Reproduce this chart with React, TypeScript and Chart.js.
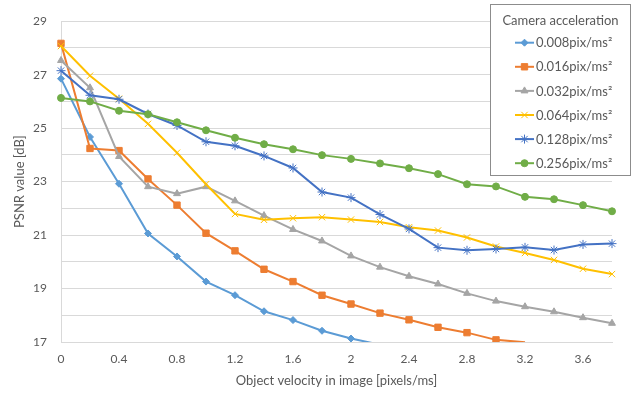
import React, { useEffect, useRef } from "react";
import { Chart, registerables } from "chart.js";
import { drawPoint } from "chart.js/helpers";

Chart.register(...registerables);

const velocities = [0, 0.2, 0.4, 0.6, 0.8, 1.0, 1.2, 1.4, 1.6, 1.8, 2.0, 2.2, 2.4, 2.6, 2.8, 3.0, 3.2, 3.4, 3.6, 3.8];
const xTickLabels = ["0", "", "0.4", "", "0.8", "", "1.2", "", "1.6", "", "2", "", "2.4", "", "2.8", "", "3.2", "", "3.6", ""];
const yTickLabels = [17, 19, 21, 23, 25, 27, 29];

const seriesNames = ["0.008pix/ms²", "0.016pix/ms²", "0.032pix/ms²", "0.064pix/ms²", "0.128pix/ms²", "0.256pix/ms²"];

const acc008 = [26.85, 24.67, 22.92, 21.06, 20.2, 19.26, 18.75, 18.15, 17.82, 17.42, 17.13, 16.9, null, null, null, null, null, null, null, null];
const acc016 = [28.17, 24.24, 24.16, 23.1, 22.12, 21.07, 20.41, 19.72, 19.26, 18.75, 18.42, 18.08, 17.83, 17.55, 17.35, 17.08, 16.99, null, null, null];
const acc032 = [27.53, 26.51, 23.94, 22.81, 22.55, 22.81, 22.28, 21.73, 21.21, 20.78, 20.22, 19.8, 19.46, 19.17, 18.82, 18.53, 18.32, 18.13, 17.91, 17.7];
const acc064 = [28.07, 26.96, 26.1, 25.16, 24.08, 22.9, 21.79, 21.57, 21.63, 21.67, 21.58, 21.49, 21.29, 21.17, 20.91, 20.57, 20.33, 20.07, 19.74, 19.54];
const acc128 = [27.15, 26.23, 26.08, 25.53, 25.1, 24.49, 24.34, 23.96, 23.51, 22.61, 22.4, 21.77, 21.23, 20.53, 20.43, 20.48, 20.54, 20.44, 20.65, 20.68];
const acc256 = [26.13, 26.0, 25.65, 25.52, 25.22, 24.92, 24.64, 24.4, 24.21, 23.99, 23.85, 23.68, 23.5, 23.28, 22.9, 22.82, 22.43, 22.34, 22.12, 21.89];

const seriesValues = [acc008, acc016, acc032, acc064, acc128, acc256];
const seriesColors = ["#5B9BD5", "#ED7D31", "#A5A5A5", "#FFC000", "#4472C4", "#70AD47"];
const seriesMarkers = ["rectRot", "rect", "triangle", "crossRot", "star", "circle"];
const markerRadius = [3.5, 4.5, 4, 4.5, 4.5, 3.5];

const FONT = "Lato, 'Open Sans', sans-serif";
const TEXT = "#595959";
const GRID = "#d9d9d9";

const legendPlugin = {
  id: "boxLegend",
  afterDraw(chart: any) {
    const ctx = chart.ctx;
    ctx.save();
    const bx = 490.5, by = 4.5, bw = 140, bh = 171;
    ctx.fillStyle = "#ffffff";
    ctx.fillRect(bx, by, bw, bh);
    ctx.strokeStyle = "#8c8c8c";
    ctx.lineWidth = 1;
    ctx.strokeRect(bx, by, bw, bh);
    ctx.font = `13px ${FONT}`;
    ctx.fillStyle = TEXT;
    ctx.textAlign = "center";
    ctx.textBaseline = "middle";
    ctx.fillText("Camera acceleration", bx + bw / 2, 21);
    seriesNames.forEach((name, i) => {
      const y = 42.7 + i * 24.1;
      ctx.strokeStyle = seriesColors[i];
      ctx.fillStyle = seriesColors[i];
      ctx.lineWidth = 2;
      ctx.beginPath();
      ctx.moveTo(515, y);
      ctx.lineTo(534, y);
      ctx.stroke();
      ctx.lineWidth = 1;
      drawPoint(ctx, { pointStyle: seriesMarkers[i], radius: markerRadius[i], rotation: 0, borderWidth: 1 } as any, 524.5, y);
      ctx.fillStyle = TEXT;
      ctx.textAlign = "left";
      ctx.fillText(name, 536, y + 0.5);
    });
    ctx.restore();
  },
};

export default function App() {
  const canvasRef = useRef<HTMLCanvasElement | null>(null);

  useEffect(() => {
    document.body.style.margin = "0";
    const canvas = canvasRef.current;
    if (!canvas) return;
    const chart = new Chart(canvas, {
      type: "line",
      data: {
        labels: velocities.map((v) => String(v)),
        datasets: seriesValues.map((vals, i) => ({
          label: seriesNames[i],
          data: vals,
          borderColor: seriesColors[i],
          backgroundColor: seriesColors[i],
          pointBackgroundColor: seriesColors[i],
          pointBorderColor: seriesColors[i],
          pointStyle: seriesMarkers[i] as any,
          pointRadius: (c: any) => (c.raw == null || c.raw < 17 ? 0 : markerRadius[i]),
          pointBorderWidth: 1,
          borderWidth: 2,
          tension: 0,
          fill: false,
          spanGaps: false,
          order: 5 - i,
          clip: { left: 10, right: 10, top: 10, bottom: 0 } as any,
        })),
      },
      options: {
        responsive: false,
        animation: false,
        devicePixelRatio: 1,
        layout: { padding: { left: 0, right: 31, top: 17, bottom: 0 } },
        plugins: {
          legend: { display: false },
          tooltip: { enabled: false },
        },
        scales: {
          x: {
            type: "category",
            offset: false,
            grid: { display: false, drawTicks: false },
            border: { display: true, color: GRID, width: 1 },
            ticks: {
              autoSkip: false,
              maxRotation: 0,
              padding: 10,
              color: TEXT,
              font: { family: FONT, size: 12 },
              callback: (_v: any, idx: number) => xTickLabels[idx],
            },
            title: {
              display: true,
              text: "Object velocity in image [pixels/ms]",
              color: TEXT,
              font: { family: FONT, size: 13 },
              padding: { top: 0, bottom: 5 },
            },
            afterFit: (s: any) => {
              s.height = 52;
            },
          },
          y: {
            type: "linear",
            min: 17,
            max: 29,
            grid: { color: GRID, drawTicks: false, lineWidth: 1 },
            border: { display: true, color: GRID, width: 1 },
            ticks: {
              stepSize: 1,
              padding: 14,
              color: TEXT,
              font: { family: FONT, size: 12 },
              callback: (v: any) => (yTickLabels.includes(Number(v)) ? String(v) : ""),
            },
            title: {
              display: true,
              text: "PSNR value [dB]",
              color: TEXT,
              font: { family: FONT, size: 13 },
              padding: { top: 12, bottom: 0 },
            },
            afterFit: (s: any) => {
              s.width = 61;
            },
          },
        },
      },
      plugins: [legendPlugin],
    });
    return () => chart.destroy();
  }, []);

  return (
    <div style={{ position: "relative", width: 643, height: 394 }}>
      <canvas ref={canvasRef} width={643} height={394} style={{ display: "block" }} />
    </div>
  );
}
